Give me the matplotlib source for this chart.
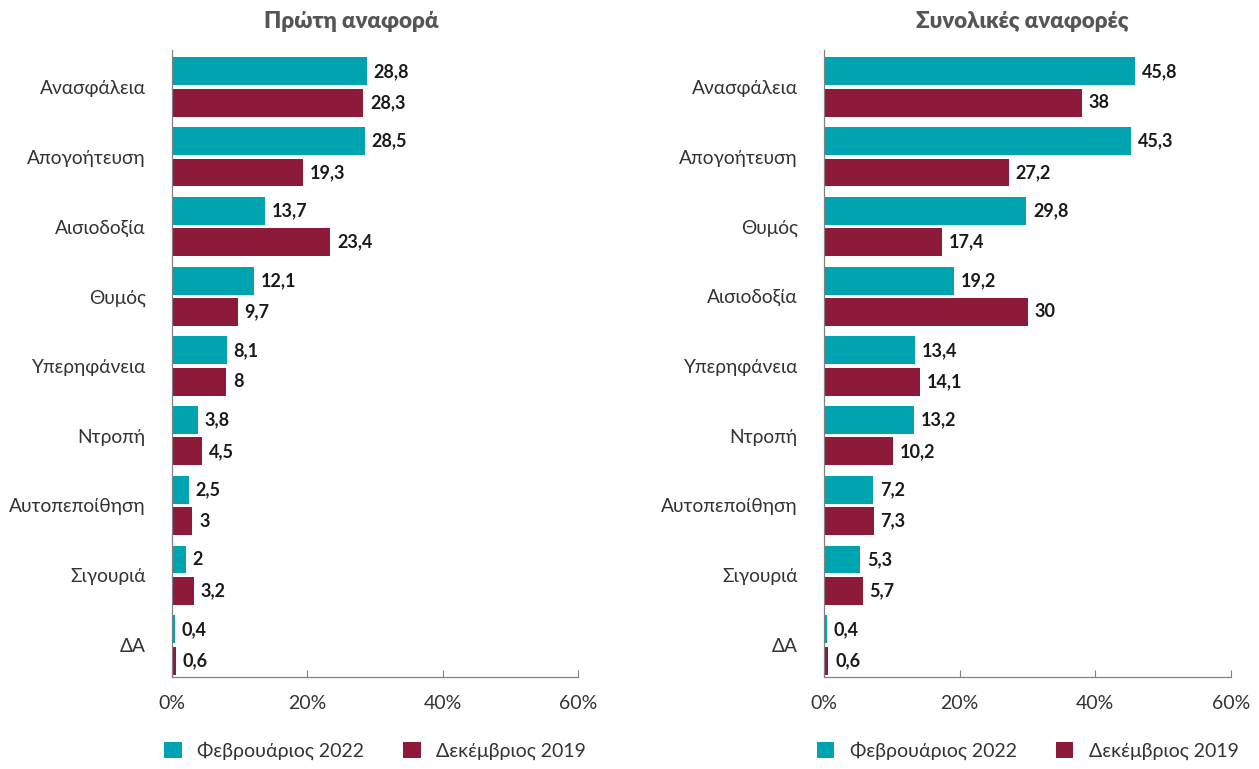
import numpy as np
import matplotlib.pyplot as plt

# Left panel: first mention
cats_first = ['Ανασφάλεια', 'Απογοήτευση', 'Αισιοδοξία', 'Θυμός', 'Υπερηφάνεια',
              'Ντροπή', 'Αυτοπεποίθηση', 'Σιγουριά', 'ΔΑ']
feb22_first = [28.8, 28.5, 13.7, 12.1, 8.1, 3.8, 2.5, 2.0, 0.4]
dec19_first = [28.3, 19.3, 23.4, 9.7, 8.0, 4.5, 3.0, 3.2, 0.6]

# Right panel: total mentions
cats_total = ['Ανασφάλεια', 'Απογοήτευση', 'Θυμός', 'Αισιοδοξία', 'Υπερηφάνεια',
              'Ντροπή', 'Αυτοπεποίθηση', 'Σιγουριά', 'ΔΑ']
feb22_total = [45.8, 45.3, 29.8, 19.2, 13.4, 13.2, 7.2, 5.3, 0.4]
dec19_total = [38.0, 27.2, 17.4, 30.0, 14.1, 10.2, 7.3, 5.7, 0.6]

titles = ['Πρώτη αναφορά', 'Συνολικές αναφορές']
series_names = ['Φεβρουάριος 2022', 'Δεκέμβριος 2019']
xticks = [0, 20, 40, 60]

teal = '#00A4B1'
maroon = '#8C1A38'
plt.rcParams['font.family'] = ['Lato', 'DejaVu Sans']


def fmt(v):
    s = ('%.1f' % v).rstrip('0').rstrip('.')
    return s.replace('.', ',')


fig = plt.figure(figsize=(12.59, 7.69), dpi=100)
ax1 = fig.add_axes([0.1366, 0.1196, 0.3225, 0.8153])
ax2 = fig.add_axes([0.6545, 0.1196, 0.3233, 0.8153])

panels = [(ax1, cats_first, feb22_first, dec19_first),
          (ax2, cats_total, feb22_total, dec19_total)]
title_x = [351 / 1259, 1022 / 1259]

for i, (ax, cats, a, b) in enumerate(panels):
    y = np.arange(len(cats))
    h = 0.40
    off = 0.225
    ba = ax.barh(y - off, a, height=h, color=teal, label=series_names[0])
    bb = ax.barh(y + off, b, height=h, color=maroon, label=series_names[1])
    for bars, vals in [(ba, a), (bb, b)]:
        for r, v in zip(bars, vals):
            ax.annotate(fmt(v), (r.get_width(), r.get_y() + r.get_height() / 2),
                        xytext=(5, 0), textcoords='offset points',
                        va='center', ha='left', fontsize=13,
                        fontweight='bold', color='#1a1a1a')
    ax.set_yticks(y)
    ax.set_yticklabels(cats, fontsize=13.8, color='#333333')
    ax.set_ylim(8.46, -0.53)
    ax.set_xlim(0, 60)
    ax.set_xticks(xticks)
    ax.set_xticklabels(['%d%%' % t for t in xticks], fontsize=14, color='#333333')
    ax.tick_params(axis='y', length=0, pad=19)
    ax.tick_params(axis='x', direction='in', length=5, color='#808080', pad=13)
    for s in ['top', 'right']:
        ax.spines[s].set_visible(False)
    for s in ['left', 'bottom']:
        ax.spines[s].set_color('#808080')
        ax.spines[s].set_linewidth(0.9)
    fig.text(title_x[i], 1 - 22 / 769, titles[i], fontsize=16, fontweight='heavy',
             color='#555555', ha='center', va='center')
    ax.legend(loc='center', bbox_to_anchor=(0.5, -0.117), ncol=2,
              frameon=False, fontsize=14, handlelength=0.9, handleheight=0.9,
              columnspacing=2.0, handletextpad=0.8)
    for t in ax.get_legend().get_texts():
        t.set_color('#333333')

fig.savefig('out.png', dpi=100)
